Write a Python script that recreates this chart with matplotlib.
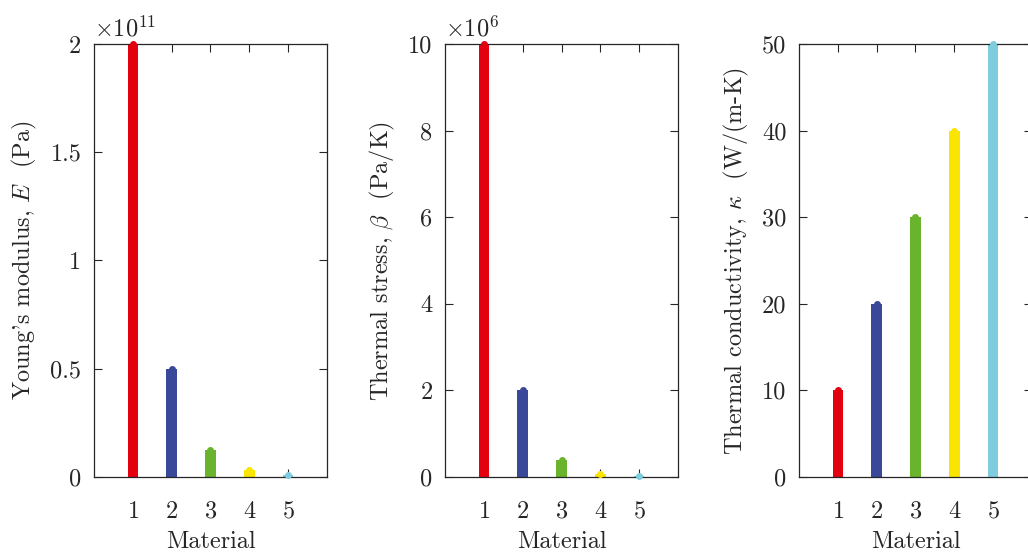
import numpy as np
import matplotlib
matplotlib.use("Agg")
import matplotlib.pyplot as plt

plt.rcParams['font.family'] = 'cmr10'
plt.rcParams['mathtext.fontset'] = 'cm'
plt.rcParams['axes.unicode_minus'] = False
plt.rcParams['axes.formatter.use_mathtext'] = True

materials = [1, 2, 3, 4, 5]
colors = ['#E3000F', '#3A4899', '#6AB42D', '#F9E500', '#7ECCDD']

youngs_modulus = [2.0e11, 0.5e11, 0.125e11, 0.03125e11, 0.0078e11]   # Pa
thermal_stress = [10.0e6, 2.0e6, 0.4e6, 0.08e6, 0.016e6]              # Pa/K
conductivity = [10, 20, 30, 40, 50]                                  # W/(m-K)

panels = [
    (youngs_modulus, 1e11, r'$\times10^{11}$', [0, 0.5, 1, 1.5, 2], 2,
     r"Young's modulus, $E$  (Pa)", 0.0914),
    (thermal_stress, 1e6, r'$\times10^{6}$', [0, 2, 4, 6, 8, 10], 10,
     r"Thermal stress, $\beta$  (Pa/K)", 0.4329),
    (conductivity, 1, None, [0, 10, 20, 30, 40, 50], 50,
     r"Thermal conductivity, $\kappa$  (W/(m-K)", 0.7772),
]

fig = plt.figure(figsize=(10.28, 5.52), dpi=100)
fs = 17.5

for vals, scale, offset, yt, ymax, ylab, left in panels:
    ax = fig.add_axes([left, 0.1359, 0.2267, 0.7844])
    v = np.array(vals) / scale
    ax.bar(materials, v, width=0.27, color=colors, zorder=2)
    for x, y, c in zip(materials, v, colors):
        ax.plot(x, y, 'o', color=c, markersize=4, zorder=3, clip_on=False)
    ax.set_xlim(0, 6)
    ax.set_ylim(0, ymax)
    ax.set_xticks(materials)
    ax.set_yticks(yt)
    ax.set_yticklabels(['%g' % t for t in yt])
    ax.tick_params(direction='in', top=True, right=True, length=6,
                   width=0.8, labelsize=fs, colors='#262626')
    ax.tick_params(axis='x', pad=17)
    ax.tick_params(axis='y', pad=9)
    for s in ax.spines.values():
        s.set_color('#262626')
        s.set_linewidth(0.9)
    ax.set_xlabel('Material', fontsize=fs, labelpad=6, color='#262626')
    ax.set_ylabel(ylab, fontsize=fs, labelpad=8, color='#262626')
    if offset:
        ax.text(0, 1.005, offset, transform=ax.transAxes, fontsize=fs,
                ha='left', va='bottom', color='#262626')

fig.savefig('out.png', dpi=100)
